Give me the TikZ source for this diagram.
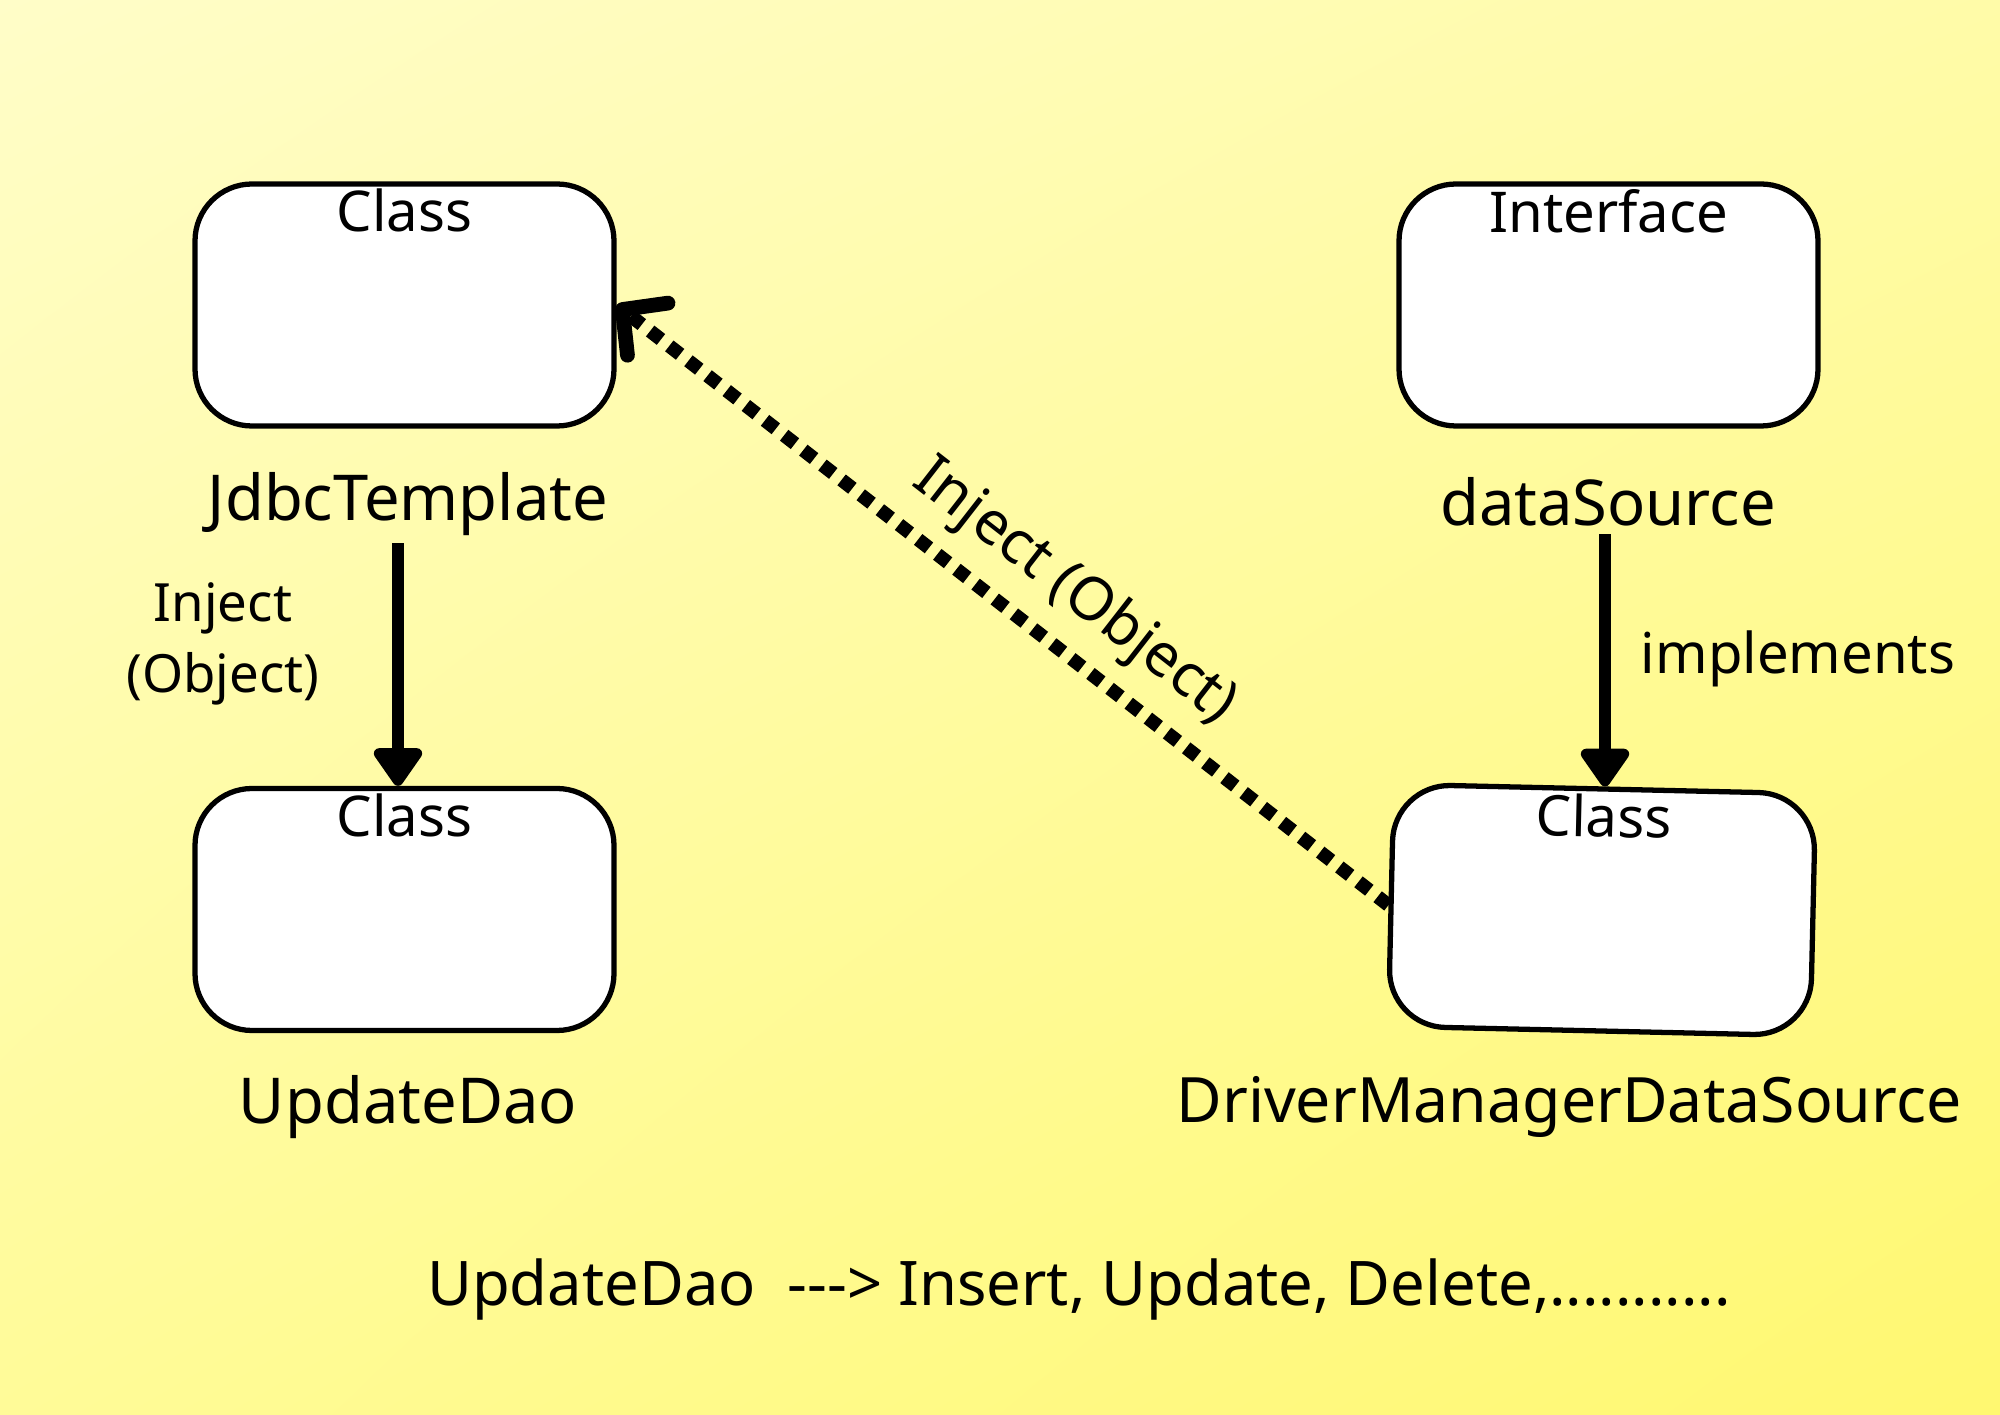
\documentclass[tikz,border=0pt]{standalone}
\usepackage{fontspec}
\setmainfont{Noto Sans}
\usetikzlibrary{arrows.meta,positioning,shadings}
\definecolor{bgtl}{HTML}{FFFDC8}
\definecolor{bgtr}{HTML}{FFFBA8}
\definecolor{bgbl}{HTML}{FFFB98}
\definecolor{bgbr}{HTML}{FFF870}
\begin{document}
\begin{tikzpicture}[
		classbox/.style={draw=black, line width=1.5pt, fill=white, rounded corners=0.57cm,
			minimum width=4.19cm, minimum height=2.42cm, inner sep=0pt},
		tag/.style={font=\fontsize{16}{19}\selectfont, inner sep=2pt, anchor=north},
		objname/.style={font=\fontsize{18}{21}\selectfont, inner sep=2pt},
		note/.style={font=\fontsize{15}{20}\selectfont, align=center, inner sep=1pt},
		flow/.style={line width=3.3pt, -{Triangle[width=0.55cm,length=0.42cm,round]}},
		inject/.style={line width=3.9pt, dash pattern=on 3.9pt off 3pt,
			-{Straight Barb[length=0.32cm,width=0.66cm,line width=4.2pt 0,round]}}
	]
		% background
		\shade[upper left=bgtl, upper right=bgtr, lower left=bgbl, lower right=bgbr]
			(0,0) rectangle (20,14.14);
		\useasboundingbox (0,0) rectangle (20,14.14);

		% boxes
		\node[classbox] (jdbc) at (4.045,11.09) {};
		\node[classbox] (ds) at (16.085,11.09) {};
		\node[classbox] (upd) at (4.045,5.045) {};
		\node[classbox, rotate=-1.3, minimum width=4.22cm] (dmds) at (16.02,5.04) {};

		\node[tag] (jdbctag) at (jdbc.north) {Class};
		\node[tag] (dstag) at (ds.north) {Interface};
		\node[tag] (updtag) at (upd.north) {Class};
		\node[tag, rotate=-1.3] (dmdstag) at (dmds.north) {Class};

		% names
		\node[objname] (jdbcname) at (4.08,9.10) {JdbcTemplate};
		\node[objname] (dsname) at (16.08,9.12) {dataSource};
		\node[objname] (updname) at (4.08,3.07) {UpdateDao};
		\node[objname, font=\fontsize{17.8}{21}\selectfont] (dmdsname) at (15.69,3.07) {DriverManagerDataSource};

		% connectors
		\coordinate (a) at ([xshift=-1mm]jdbcname.south);
		\draw[flow] (a) -- (a |- upd.north);
		\coordinate (b) at ([xshift=-0.3mm]dsname.south);
		\draw[flow] (b) -- (b |- dmds.north);
		\draw[inject] (dmds.west) -- node[pos=0.45, sloped, above=5pt, objname, font=\fontsize{17}{20}\selectfont, inner sep=0pt] (injlbl) {Inject (Object)} (jdbc.east);

		\node[note] (injnote) at (2.23,7.70) {Inject\\(Object)};
		\node[objname, font=\fontsize{16}{20}\selectfont] (impl) at (17.98,7.55) {implements};

		\node[objname, font=\fontsize{17.5}{20}\selectfont] (summary) at (10.79,1.24) {UpdateDao\ \ -{}-{}-> Insert, Update, Delete,...........};
	\end{tikzpicture}
\end{document}
